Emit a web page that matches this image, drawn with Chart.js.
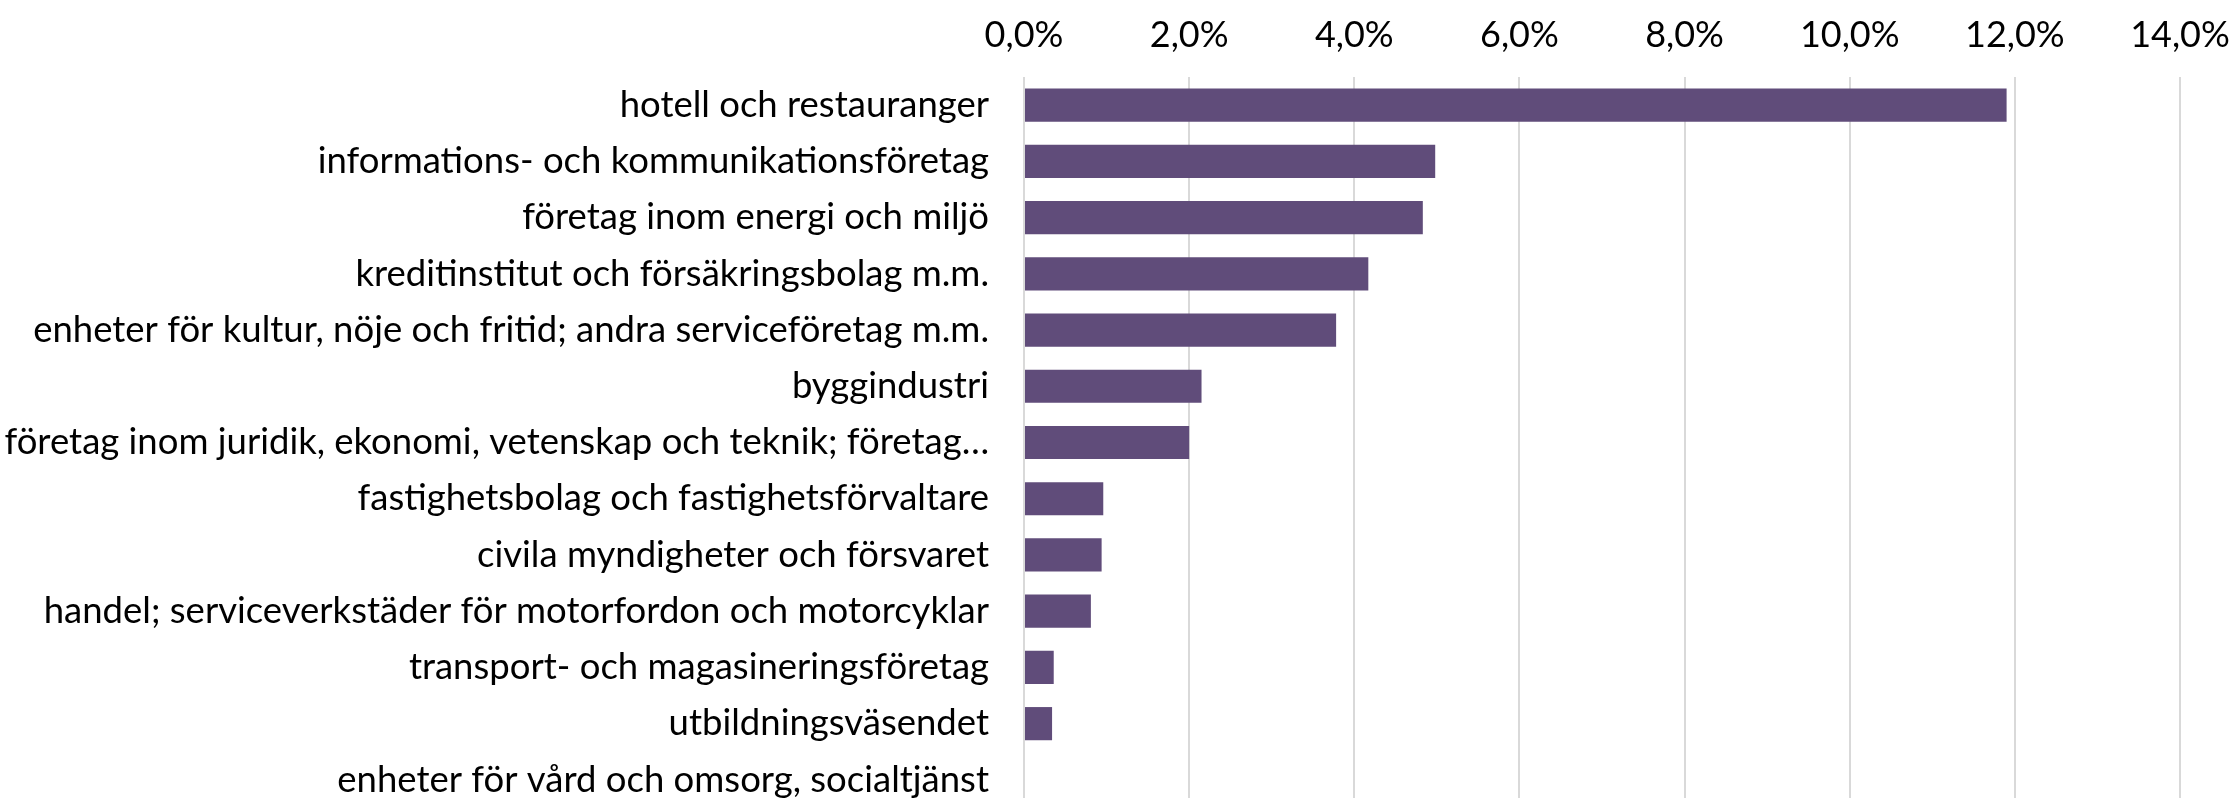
<!DOCTYPE html>
<html>
<head>
<meta charset="utf-8">
<script src="https://cdn.jsdelivr.net/npm/chart.js@4"></script>
<style>
  html, body { margin: 0; padding: 0; background: #fff; overflow: hidden; }
</style>
</head>
<body>
<canvas id="chart" width="2233" height="808"></canvas>
<script>
var categories = [
  'hotell och restauranger',
  'informations- och kommunikationsföretag',
  'företag inom energi och miljö',
  'kreditinstitut och försäkringsbolag m.m.',
  'enheter för kultur, nöje och fritid; andra serviceföretag m.m.',
  'byggindustri',
  'företag inom juridik, ekonomi, vetenskap och teknik; företag…',
  'fastighetsbolag och fastighetsförvaltare',
  'civila myndigheter och försvaret',
  'handel; serviceverkstäder för motorfordon och motorcyklar',
  'transport- och magasineringsföretag',
  'utbildningsväsendet',
  'enheter för vård och omsorg, socialtjänst'
];
var shares = [11.9, 4.98, 4.83, 4.17, 3.78, 2.15, 2.0, 0.96, 0.94, 0.81, 0.36, 0.34, 0];
var xTicks = [0, 2, 4, 6, 8, 10, 12, 14];

var purple = '#604c7a';
var gridGrey = '#d9d9d9';
var font = 'Lato';

new Chart(document.getElementById('chart').getContext('2d'), {
  type: 'bar',
  data: {
    labels: categories,
    datasets: [
      { label: 'Andel', data: shares, backgroundColor: purple, borderWidth: 0,
        categoryPercentage: 1, barPercentage: 0.59 }
    ]
  },
  options: {
    indexAxis: 'y', responsive: false, animation: false,
    layout: { padding: { top: 0, right: 53, bottom: 0, left: 0 } },
    plugins: { legend: { display: false }, tooltip: { enabled: false } },
    scales: {
      x: {
        position: 'top', min: 0, max: 14,
        afterBuildTicks: function(s) { s.ticks = xTicks.map(function(v) { return { value: v }; }); },
        afterFit: function(s) { s.height = 77; s.paddingLeft = 0; s.paddingRight = 0; },
        ticks: { font: { family: font, size: 36 }, color: '#000', padding: 20,
          callback: function(v) { return v.toFixed(1).replace('.', ',') + '%'; } },
        grid: { color: gridGrey, lineWidth: 2, drawTicks: false },
        border: { display: false }
      },
      y: {
        afterFit: function(s) { s.width = 1024; s.paddingTop = 0; s.paddingBottom = 0; },
        ticks: { font: { family: font, size: 36.5 }, color: '#000', padding: 27, autoSkip: false },
        grid: { display: false },
        border: { display: false }
      }
    }
  }
});
</script>
</body>
</html>
